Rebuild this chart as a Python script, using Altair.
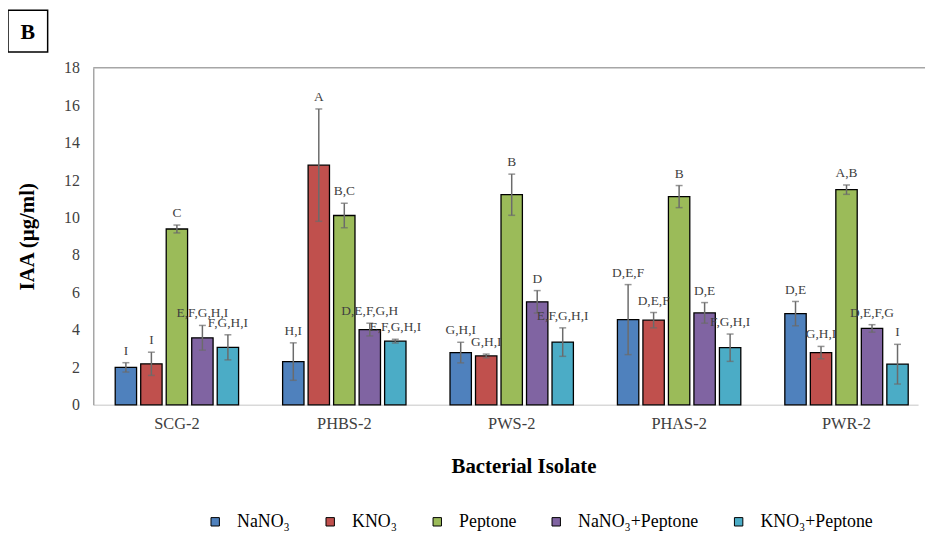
import altair as alt
import pandas as pd

isolates = ["SCG-2", "PHBS-2", "PWS-2", "PHAS-2", "PWR-2"]
media = ["NaNO₃", "KNO₃", "Peptone", "NaNO₃+Peptone", "KNO₃+Peptone"]
colors = ["#4F81BD", "#C0504D", "#9BBB59", "#8064A2", "#4BACC6"]
y_ticks = [0, 2, 4, 6, 8, 10, 12, 14, 16, 18]

nano3 = [2.00, 2.31, 2.79, 4.55, 4.87]
nano3_err = [0.25, 1.00, 0.55, 1.87, 0.65]
nano3_sig = ["I", "H,I", "G,H,I", "D,E,F", "D,E"]

kno3 = [2.19, 12.80, 2.61, 4.52, 2.79]
kno3_err = [0.62, 3.00, 0.10, 0.41, 0.33]
kno3_sig = ["I", "A", "G,H,I", "D,E,F", "G,H,I"]

peptone = [9.39, 10.11, 11.22, 11.12, 11.49]
peptone_err = [0.21, 0.65, 1.10, 0.59, 0.25]
peptone_sig = ["C", "B,C", "B", "B", "A,B"]

nano3_pep = [3.58, 4.02, 5.50, 4.91, 4.08]
nano3_pep_err = [0.66, 0.34, 0.60, 0.55, 0.20]
nano3_pep_sig = ["E,F,G,H,I", "D,E,F,G,H", "D", "D,E", "D,E,F,G"]

kno3_pep = [3.07, 3.40, 3.35, 3.05, 2.17]
kno3_pep_err = [0.67, 0.10, 0.76, 0.73, 1.06]
kno3_pep_sig = ["F,G,H,I", "E,F,G,H,I", "E,F,G,H,I", "F,G,H,I", "I"]

panel_letter = ["B"]

series = [
    (nano3, nano3_err, nano3_sig),
    (kno3, kno3_err, kno3_sig),
    (peptone, peptone_err, peptone_sig),
    (nano3_pep, nano3_pep_err, nano3_pep_sig),
    (kno3_pep, kno3_pep_err, kno3_pep_sig),
]

rows = []
for m, (vals, errs, sigs) in zip(media, series):
    for iso, v, e, s in zip(isolates, vals, errs, sigs):
        rows.append(dict(isolate=iso, medium=m, iaa=v, lo=v - e, hi=v + e, sig=s))
df = pd.DataFrame(rows)
one = pd.DataFrame({"t": panel_letter})

FONT = "Liberation Serif"
W, H = 832, 340
ERR = "#6b6b6b"

x_enc = alt.X(
    "isolate:N",
    sort=isolates,
    scale=alt.Scale(paddingInner=0.263, paddingOuter=0.095, align=0.69),
    axis=alt.Axis(
        title="Bacterial Isolate",
        titleFont=FONT, titleFontSize=21, titleFontWeight="bold", titleColor="#000000",
        titleX=434, titlePadding=24,
        labelFont=FONT, labelFontSize=16.5, labelColor="#404040", labelAngle=0,
        labelPadding=11, ticks=False, domainColor="#d9d9d9", domainWidth=1.5,
    ),
)
xo_enc = alt.XOffset("medium:N", sort=media, scale=alt.Scale(paddingInner=0.162, paddingOuter=0))

y_axis = alt.Axis(
    title="IAA (µg/ml)",
    titleFont=FONT, titleFontSize=21, titleFontWeight="bold", titleColor="#000000",
    titlePadding=26,
    labelFont=FONT, labelFontSize=16, labelColor="#404040", labelPadding=14,
    values=y_ticks, labelOverlap=False, ticks=False, grid=False,
    domainColor="#a6a6a6", domainWidth=1.5,
)
yscale = alt.Scale(domain=[0, 18], nice=False)


def yenc(field):
    return alt.Y(field, scale=yscale, axis=y_axis, title="IAA (µg/ml)")


base = alt.Chart(df).encode(x=x_enc, xOffset=xo_enc)

bars = base.mark_bar(stroke="#000000", strokeWidth=1.3).encode(
    y=yenc("iaa:Q"),
    fill=alt.Fill(
        "medium:N", sort=media,
        scale=alt.Scale(domain=media, range=colors),
        legend=alt.Legend(
            title=None, orient="none", direction="horizontal",
            legendX=114, legendY=449,
            symbolType="square", symbolSize=72, symbolStrokeColor="#000000",
            symbolStrokeWidth=1, labelFont=FONT, labelFontSize=18, labelColor="#000000",
            labelOffset=13, columnPadding=31,
        ),
    ),
)

rules = base.mark_rule(color=ERR, strokeWidth=1.5).encode(y=yenc("lo:Q"), y2="hi:Q")
cap_hi = base.mark_tick(color=ERR, thickness=1.5, size=7, orient="horizontal").encode(y=yenc("hi:Q"))
cap_lo = base.mark_tick(color=ERR, thickness=1.5, size=7, orient="horizontal").encode(y=yenc("lo:Q"))

labels = base.mark_text(
    font=FONT, fontSize=13.5, color="#404040", baseline="bottom", dy=-5
).encode(y=yenc("hi:Q"), text="sig:N")

top_line = alt.Chart(one).mark_rule(color="#a6a6a6", strokeWidth=1.5).encode(
    x=alt.value(0), x2=alt.value(W + 7), y=alt.value(0)
)

box = alt.Chart(one).mark_rect(fill="white", stroke="#000000", strokeWidth=1.5).encode(
    x=alt.value(-86), x2=alt.value(-46), y=alt.value(-58), y2=alt.value(-16)
)
box_text = alt.Chart(one).mark_text(
    font=FONT, fontSize=22, fontWeight="bold", color="#000000",
    align="center", baseline="middle"
).encode(x=alt.value(-66), y=alt.value(-36), text="t:N")

chart = alt.layer(bars, rules, cap_hi, cap_lo, labels, top_line, box, box_text).properties(
    width=W, height=H,
    autosize=alt.AutoSizeParams(type="none"),
    padding={"left": 86, "top": 58, "right": 8, "bottom": 125},
    background="white",
).configure_view(strokeWidth=0, stroke="transparent")

chart.save("out.html", embed_options={"renderer": "svg", "actions": False})
